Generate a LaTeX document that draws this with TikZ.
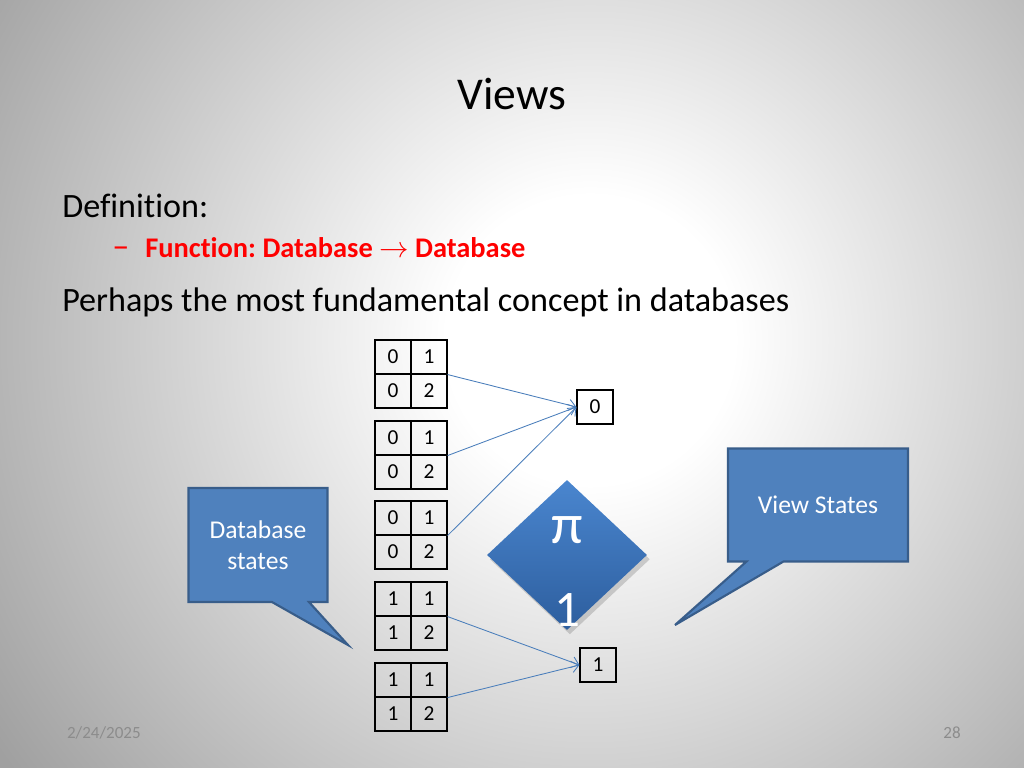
\documentclass[tikz,border=0pt]{standalone}
\usepackage{fontspec}
\setmainfont[Ligatures={TeX,NoCommon}]{Carlito}
\usetikzlibrary{shapes.geometric,shapes.callouts,arrows.meta,shadows}
\frenchspacing

\definecolor{bubblefill}{HTML}{4F81BD}
\definecolor{bubbleedge}{HTML}{385D8A}
\definecolor{linkblue}{HTML}{4A7EBB}
\definecolor{slidegray}{RGB}{160,160,160}
\definecolor{footgray}{RGB}{140,140,140}
\definecolor{diamondtop}{HTML}{4A86CF}
\definecolor{diamondbot}{HTML}{2D5E9E}

% white glow in the middle of the slide
\pgfdeclareradialshading{slideglow}{\pgfpoint{0bp}{0bp}}{%
  color(0bp)=(white); color(5bp)=(white); color(25bp)=(slidegray); color(50bp)=(slidegray)}

\tikzset{
  cell/.style={draw, line width=0.8pt, minimum width=25.3pt, minimum height=23.9pt,
    inner sep=0pt, font=\fontsize{15}{18}\selectfont},
  link/.style={draw=linkblue, line width=0.6pt, -{Straight Barb[length=5pt,width=8pt]}},
  bubble/.style={rectangle callout, fill=bubblefill, draw=bubbleedge, line width=1.5pt,
    text=white, font=\fontsize{18}{22}\selectfont, align=center, callout pointer width=26pt},
  slidetext/.style={anchor=base west, inner sep=0pt, font=\fontsize{24}{29}\selectfont}
}

\begin{document}
\begin{tikzpicture}[x=0.703125pt, y=-0.703125pt]
  % Slide background
  \useasboundingbox (0,0) rectangle (1024,768);
  \fill[slidegray] (0,0) rectangle (1024,768);
  \begin{scope}
    \clip (0,0) rectangle (1024,768);
    \shade[shading=slideglow] (590,340) circle (720);
  \end{scope}

  % Title and text
  \node[anchor=base, font=\fontsize{32}{38}\selectfont] (title) at (512,110) {Views};
  \node[slidetext] (defn) at (62,218) {Definition:};
  \node[slidetext, text=red, font=\fontsize{24}{29}\selectfont] (dash) at (112,258) {–};
  \node[slidetext, text=red, font=\bfseries\fontsize{20}{24}\selectfont] (func) at (145,258)
    {Function: Database $\rightarrow$ Database};
  \node[slidetext] (perhaps) at (62,312) {Perhaps the most fundamental concept in databases};

  % Database states (tables)
  \foreach \k/\top/\a/\b/\c/\d in {1/340/0/1/0/2, 2/421/0/1/0/2, 3/501/0/1/0/2,
                                   4/582/1/1/1/2, 5/663/1/1/1/2} {
    \node[cell] (t\k-1-1) at (393,\top+17) {\a};
    \node[cell] (t\k-1-2) at (429,\top+17) {\b};
    \node[cell] (t\k-2-1) at (393,\top+51) {\c};
    \node[cell] (t\k-2-2) at (429,\top+51) {\d};
  }

  % View states
  \node[cell] (v0) at (595,407) {0};
  \node[cell] (v1) at (598,665) {1};

  % Mappings
  \draw[link] (t1-1-2.south east) -- (v0.west);
  \draw[link] (t2-1-2.south east) -- (v0.west);
  \draw[link] (t3-1-2.south east) -- (v0.west);
  \draw[link] (t4-1-2.south east) -- (v1.west);
  \draw[link] (t5-1-2.south east) -- (v1.west);

  % Projection diamond
  \node[diamond, minimum width=112.5pt, minimum height=105.5pt, inner sep=0pt,
    top color=diamondtop, bottom color=diamondbot,
    drop shadow={opacity=0.35, shadow xshift=2pt, shadow yshift=-3pt}] (proj) at (567,555) {};
  \node[text=white, font=\fontsize{40}{48}\selectfont] (pisym) at (567,530) {π};
  \node[text=white, font=\fontsize{36}{43}\selectfont] (pisub) at (567,610) {1};

  % Callouts
  \node[bubble, minimum width=97.7pt, minimum height=80.2pt,
    callout absolute pointer={(348,645)}] (dbstates) at (258,545) {Database\\states};
  \node[bubble, minimum width=126.6pt, minimum height=79.5pt,
    callout absolute pointer={(675,625)}] (vstates) at (818,505) {View States};

  % Footer
  \node[anchor=base west, font=\fontsize{12}{14}\selectfont, text=footgray] (date) at (62,738) {2/24/2025};
  \node[anchor=base, font=\fontsize{12}{14}\selectfont, text=footgray] (page) at (952,738) {28};
\end{tikzpicture}
\end{document}
